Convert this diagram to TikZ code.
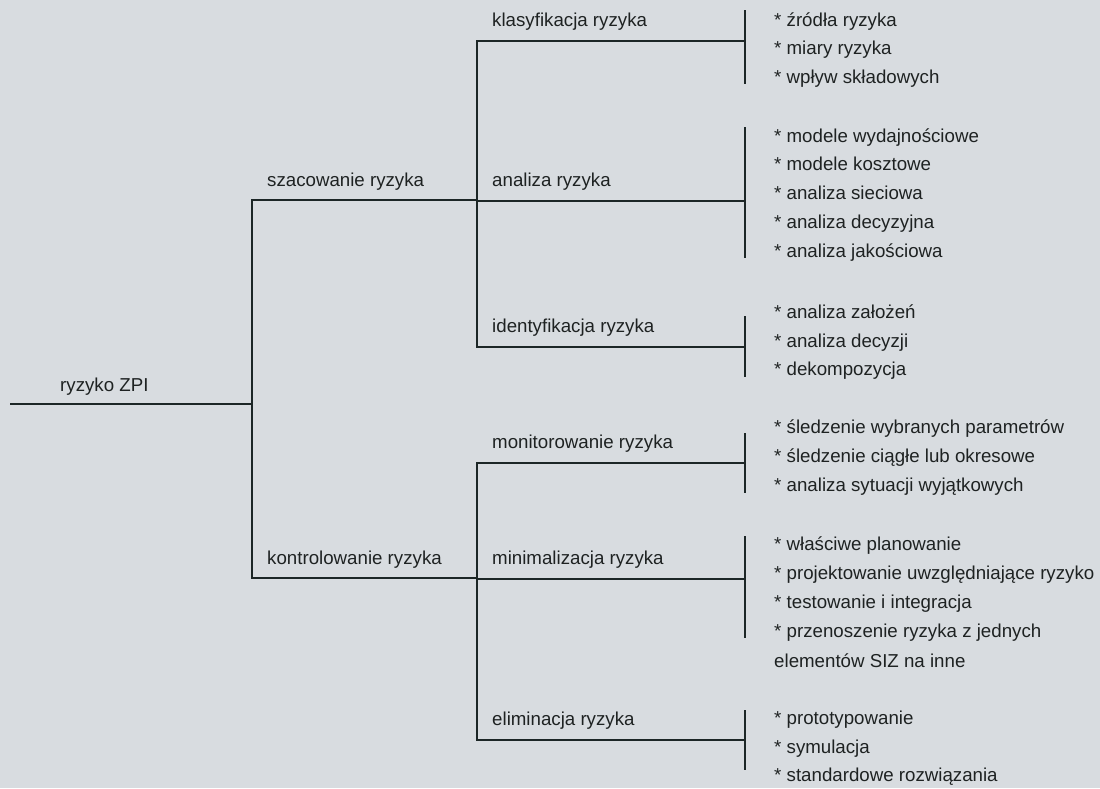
\documentclass[tikz,border=0pt]{standalone}
\usepackage{fontspec}
\setmainfont{Liberation Sans}
\definecolor{paper}{HTML}{D8DCE0}
\definecolor{ink}{HTML}{1E2222}
\definecolor{treeline}{HTML}{1C2626}
\tikzset{
  tree/.style={draw=treeline, line width=2.6pt, line join=miter, line cap=butt},
  lbl/.style={anchor=base west, inner sep=0pt, text=ink, font=\fontsize{18.7}{22}\selectfont},
  bar/.style={draw=treeline, line width=2.6pt, line cap=butt},
}
\begin{document}
\begin{tikzpicture}[x=1pt, y=-1pt]
  \fill[paper] (0,0) rectangle (1100,788);
  \useasboundingbox (0,0) rectangle (1100,788);

  % junction points of the tree
  \coordinate (r0) at (10,404);
  \coordinate (r1) at (252,404);
  \coordinate (s0) at (252,200);
  \coordinate (s1) at (477,200);
  \coordinate (k0) at (252,578);
  \coordinate (k1) at (477,578);
  \coordinate (kl0) at (477,41);   \coordinate (kl1) at (745,41);
  \coordinate (an0) at (477,201);  \coordinate (an1) at (745,201);
  \coordinate (id0) at (477,347);  \coordinate (id1) at (745,347);
  \coordinate (mo0) at (477,463);  \coordinate (mo1) at (745,463);
  \coordinate (mi0) at (477,579);  \coordinate (mi1) at (745,579);
  \coordinate (el0) at (477,740);  \coordinate (el1) at (745,740);

  % level 0 and level 1
  \draw[tree] (r0) -- (r1);
  \draw[tree] (s1) -- (s0) -- (k0) -- (k1);

  % level 2 brackets
  \draw[tree] (kl1) -- (kl0) -- (id0) -- (id1);
  \draw[tree] (an0) -- (an1);
  \draw[tree] (mo1) -- (mo0) -- (el0) -- (el1);
  \draw[tree] (mi0) -- (mi1);

  % vertical bars in front of the item lists
  \draw[bar] (745,10) -- (kl1) -- (745,84);
  \draw[bar] (745,127) -- (an1) -- (745,258);
  \draw[bar] (745,316) -- (id1) -- (745,377);
  \draw[bar] (745,433) -- (mo1) -- (745,493);
  \draw[bar] (745,536) -- (mi1) -- (745,638);
  \draw[bar] (745,710) -- (el1) -- (745,770);

  % branch labels
  \node[lbl] (root) at (60,391) {ryzyko ZPI};
  \node[lbl] (szac) at (267,186) {szacowanie ryzyka};
  \node[lbl] (kontr) at (267,564) {kontrolowanie ryzyka};
  \node[lbl] (klas) at (492,26) {klasyfikacja ryzyka};
  \node[lbl] (anal) at (492,186) {analiza ryzyka};
  \node[lbl] (ident) at (492,332) {identyfikacja ryzyka};
  \node[lbl] (monit) at (492,448) {monitorowanie ryzyka};
  \node[lbl] (minim) at (492,564) {minimalizacja ryzyka};
  \node[lbl] (elim) at (492,725) {eliminacja ryzyka};

  % item lists
  \foreach \y/\t [count=\i] in {26/źródła ryzyka, 54.5/miary ryzyka, 83/wpływ składowych}
    \node[lbl] (kl-\i) at (774,\y) {* \t};
  \foreach \y/\t [count=\i] in {142/modele wydajnościowe, 170.5/modele kosztowe, 199/analiza sieciowa, 228/analiza decyzyjna, 257/analiza jakościowa}
    \node[lbl] (an-\i) at (774,\y) {* \t};
  \foreach \y/\t [count=\i] in {318/analiza założeń, 347/analiza decyzji, 375.5/dekompozycja}
    \node[lbl] (id-\i) at (774,\y) {* \t};
  \foreach \y/\t [count=\i] in {433/śledzenie wybranych parametrów, 462/śledzenie ciągłe lub okresowe, 491/analiza sytuacji wyjątkowych}
    \node[lbl] (mo-\i) at (774,\y) {* \t};
  \foreach \y/\t [count=\i] in {550/właściwe planowanie, 579/projektowanie uwzględniające ryzyko, 608/testowanie i integracja, 637/przenoszenie ryzyka z jednych}
    \node[lbl] (mi-\i) at (774,\y) {* \t};
  \node[lbl] (mi-5) at (774,667) {elementów SIZ na inne};
  \foreach \y/\t [count=\i] in {724/prototypowanie, 753/symulacja, 781/standardowe rozwiązania}
    \node[lbl] (el-\i) at (774,\y) {* \t};
\end{tikzpicture}
\end{document}
